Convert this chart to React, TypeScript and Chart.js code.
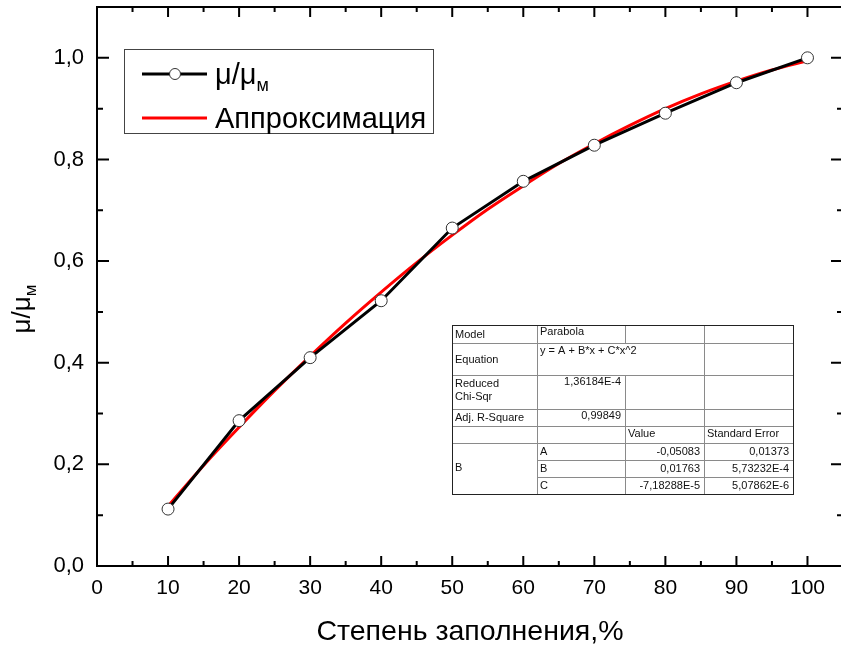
import React, { useEffect, useRef } from "react";
import { Chart, registerables } from "chart.js";
Chart.register(...registerables);

const fillDegree = [10, 20, 30, 40, 50, 60, 70, 80, 90, 100];
const muRatio = [0.112, 0.286, 0.41, 0.522, 0.665, 0.757, 0.828, 0.891, 0.951, 1.0];
const fitX = [10, 15, 20, 25, 30, 35, 40, 45, 50, 55, 60, 65, 70, 75, 80, 85, 90, 95, 100];
const fitY = [0.118, 0.198, 0.273, 0.345, 0.413, 0.478, 0.539, 0.597, 0.651, 0.702, 0.748, 0.792, 0.831, 0.867, 0.9, 0.929, 0.954, 0.976, 0.994];
const xTicks = [0, 10, 20, 30, 40, 50, 60, 70, 80, 90, 100];
const xMinor = [5, 15, 25, 35, 45, 55, 65, 75, 85, 95];
const yTicks = [0, 0.2, 0.4, 0.6, 0.8, 1.0];
const yMinor = [0.1, 0.3, 0.5, 0.7, 0.9];
const seriesNames = ["μ/μ", "Аппроксимация"];
const xTitle = "Степень заполнения,%";

const tableModel = ["Model", "Parabola"];
const tableEquation = ["Equation", "y = A + B*x + C*x^2"];
const tableChi = ["Reduced", "Chi-Sqr", "1,36184E-4"];
const tableR2 = ["Adj. R-Square", "0,99849"];
const tableHeader = ["Value", "Standard Error"];
const paramNames = ["A", "B", "C"];
const paramValues = ["-0,05083", "0,01763", "-7,18288E-5"];
const paramErrors = ["0,01373", "5,73232E-4", "5,07862E-6"];

const SANS = "'Liberation Sans', Arial, sans-serif";

const decor = {
  id: "decor",
  afterDraw(chart: any) {
    const ctx = chart.ctx;
    const a = chart.chartArea;
    const xs = chart.scales.x;
    const ys = chart.scales.y;
    ctx.save();
    // frame
    ctx.strokeStyle = "#000";
    ctx.lineWidth = 2;
    ctx.strokeRect(a.left, a.top, a.right - a.left, a.bottom - a.top);
    // ticks
    const tickX = (v: number, len: number) => {
      const px = xs.getPixelForValue(v);
      ctx.beginPath();
      ctx.moveTo(px, a.bottom);
      ctx.lineTo(px, a.bottom - len);
      ctx.moveTo(px, a.top);
      ctx.lineTo(px, a.top + len);
      ctx.stroke();
    };
    const tickY = (v: number, len: number) => {
      const py = ys.getPixelForValue(v);
      ctx.beginPath();
      ctx.moveTo(a.left, py);
      ctx.lineTo(a.left + len, py);
      ctx.moveTo(a.right, py);
      ctx.lineTo(a.right - len, py);
      ctx.stroke();
    };
    xTicks.forEach((v) => tickX(v, 10));
    xMinor.forEach((v) => tickX(v, 5));
    yTicks.forEach((v) => tickY(v, 12));
    yMinor.forEach((v) => tickY(v, 6));

    // axis titles
    ctx.fillStyle = "#000";
    ctx.font = `28.5px ${SANS}`;
    ctx.textAlign = "center";
    ctx.textBaseline = "alphabetic";
    ctx.fillText(xTitle, 470, 640);

    ctx.save();
    ctx.translate(30, 309);
    ctx.rotate(-Math.PI / 2);
    ctx.font = `26px ${SANS}`;
    ctx.textAlign = "left";
    const mainW = ctx.measureText(seriesNames[0]).width;
    ctx.font = `17px ${SANS}`;
    const subW = ctx.measureText("м").width;
    const total = mainW + subW;
    ctx.font = `26px ${SANS}`;
    ctx.fillText(seriesNames[0], -total / 2, 0);
    ctx.font = `17px ${SANS}`;
    ctx.fillText("м", -total / 2 + mainW, 6);
    ctx.restore();

    // legend
    ctx.fillStyle = "#fff";
    ctx.fillRect(124, 49, 310, 84);
    ctx.strokeStyle = "#444";
    ctx.lineWidth = 1;
    ctx.strokeRect(124.5, 49.5, 309, 84);
    ctx.strokeStyle = "#000";
    ctx.lineWidth = 3;
    ctx.beginPath();
    ctx.moveTo(142, 74);
    ctx.lineTo(207, 74);
    ctx.stroke();
    ctx.fillStyle = "#fff";
    ctx.strokeStyle = "#333";
    ctx.lineWidth = 1;
    ctx.beginPath();
    ctx.arc(175, 74, 5.5, 0, Math.PI * 2);
    ctx.fill();
    ctx.stroke();
    ctx.strokeStyle = "#ff0000";
    ctx.lineWidth = 3;
    ctx.beginPath();
    ctx.moveTo(142, 118);
    ctx.lineTo(207, 118);
    ctx.stroke();
    ctx.fillStyle = "#000";
    ctx.textAlign = "left";
    ctx.textBaseline = "alphabetic";
    ctx.font = `29px ${SANS}`;
    ctx.fillText(seriesNames[0], 215, 84);
    const lw = ctx.measureText(seriesNames[0]).width;
    ctx.font = `18px ${SANS}`;
    ctx.fillText("м", 215 + lw, 91);
    ctx.font = `29px ${SANS}`;
    ctx.fillText(seriesNames[1], 215, 128);

    // table
    const cx = [452, 537, 625, 704, 793];
    const ry = [325, 343, 375, 409, 426, 443, 460, 477, 494];
    ctx.fillStyle = "#fff";
    ctx.fillRect(cx[0], ry[0], cx[4] - cx[0], ry[8] - ry[0]);
    ctx.strokeStyle = "#8a8a8a";
    ctx.lineWidth = 1;
    const hl = (y: number, x0: number, x1: number) => {
      ctx.beginPath();
      ctx.moveTo(x0, y + 0.5);
      ctx.lineTo(x1, y + 0.5);
      ctx.stroke();
    };
    const vl = (x: number, y0: number, y1: number) => {
      ctx.beginPath();
      ctx.moveTo(x + 0.5, y0);
      ctx.lineTo(x + 0.5, y1);
      ctx.stroke();
    };
    for (let i = 1; i <= 5; i++) hl(ry[i], cx[0], cx[4]);
    hl(ry[6], cx[1], cx[4]);
    hl(ry[7], cx[1], cx[4]);
    vl(cx[1], ry[0], ry[8]);
    vl(cx[2], ry[0], ry[1]);
    vl(cx[2], ry[2], ry[8]);
    vl(cx[3], ry[0], ry[8]);
    ctx.strokeStyle = "#222";
    ctx.strokeRect(cx[0] + 0.5, ry[0] + 0.5, cx[4] - cx[0], ry[8] - ry[0]);

    ctx.fillStyle = "#111";
    ctx.font = `11px ${SANS}`;
    ctx.textBaseline = "middle";
    const L = (t: string, x: number, y: number) => {
      ctx.textAlign = "left";
      ctx.fillText(t, x + 3, y);
    };
    const R = (t: string, x: number, y: number) => {
      ctx.textAlign = "right";
      ctx.fillText(t, x - 4, y);
    };
    L(tableModel[0], cx[0], 334.5);
    L(tableModel[1], cx[1], 332);
    L(tableEquation[0], cx[0], 360);
    L(tableEquation[1], cx[1], 351);
    L(tableChi[0], cx[0], 384);
    L(tableChi[1], cx[0], 397);
    R(tableChi[2], cx[2], 382);
    L(tableR2[0], cx[0], 418);
    R(tableR2[1], cx[2], 416);
    L(tableHeader[0], cx[2], 434);
    L(tableHeader[1], cx[3], 434);
    L("B", cx[0], 468);
    for (let i = 0; i < 3; i++) {
      const y = (ry[5 + i] + ry[6 + i]) / 2;
      L(paramNames[i], cx[1], y);
      R(paramValues[i], cx[3], y);
      R(paramErrors[i], cx[4], y);
    }
    ctx.restore();
  },
};

export default function App() {
  const ref = useRef<HTMLCanvasElement>(null);
  useEffect(() => {
    if (!ref.current) return;
    const chart = new Chart(ref.current, {
      type: "scatter",
      data: {
        datasets: [
          {
            label: seriesNames[0],
            data: fillDegree.map((x, i) => ({ x, y: muRatio[i] })),
            showLine: true,
            borderColor: "#000",
            borderWidth: 3,
            tension: 0,
            pointRadius: 6,
            pointBorderWidth: 1,
            pointBorderColor: "#333",
            pointBackgroundColor: "#fff",
          },
          {
            label: seriesNames[1],
            data: fitX.map((x, i) => ({ x, y: fitY[i] })),
            showLine: true,
            borderColor: "#ff0000",
            borderWidth: 3,
            cubicInterpolationMode: "monotone",
            pointRadius: 0,
          },
        ],
      },
      options: {
        responsive: false,
        animation: false,
        devicePixelRatio: 1,
        layout: { padding: { top: 7, right: 5, left: 0, bottom: 0 } },
        plugins: { legend: { display: false }, tooltip: { enabled: false } },
        scales: {
          x: {
            type: "linear",
            min: 0,
            max: 105,
            grid: { display: false, drawTicks: false },
            border: { display: false },
            afterBuildTicks: (s: any) => {
              s.ticks = xTicks.map((v) => ({ value: v }));
            },
            afterFit: (s: any) => {
              s.height = 84;
              s.paddingLeft = 0;
              s.paddingRight = 0;
            },
            ticks: {
              padding: 10,
              color: "#000",
              font: { family: SANS, size: 21 },
              maxRotation: 0,
              callback: (v: any) => String(v),
            },
          },
          y: {
            type: "linear",
            min: 0,
            max: 1.1,
            grid: { display: false, drawTicks: false },
            border: { display: false },
            afterBuildTicks: (s: any) => {
              s.ticks = yTicks.map((v) => ({ value: v }));
            },
            afterFit: (s: any) => {
              s.width = 97;
              s.paddingTop = 0;
              s.paddingBottom = 0;
            },
            ticks: {
              padding: 13,
              color: "#000",
              font: { family: SANS, size: 22 },
              callback: (v: any) => Number(v).toFixed(1).replace(".", ","),
            },
          },
        },
      },
      plugins: [decor],
    });
    return () => chart.destroy();
  }, []);
  return (
    <div style={{ position: "fixed", left: 0, top: 0, width: 841, height: 650, overflow: "hidden", background: "#fff" }}>
      <canvas ref={ref} width={850} height={650} style={{ width: 850, height: 650, display: "block" }} />
    </div>
  );
}
